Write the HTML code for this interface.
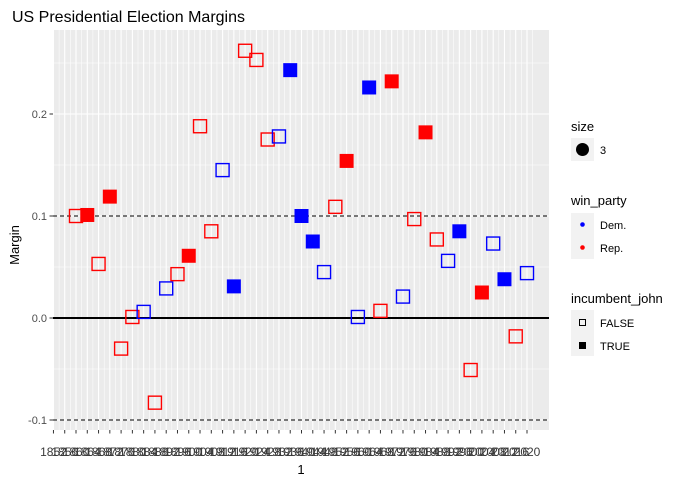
<!DOCTYPE html>
<html><head><meta charset="utf-8">
<style>
body{margin:0;background:#fff;}
svg{display:block;font-family:"Liberation Sans",Arial,sans-serif;}
</style></head>
<body>
<svg id="chart" width="689" height="484" viewBox="0 0 689 484">
  <rect x="0" y="0" width="689" height="484" fill="#fff"/>
  <text x="12" y="22" font-size="16" fill="#000">US Presidential Election Margins</text>
  <rect x="53" y="30" width="496" height="400" fill="#ebebeb"/>
  <g id="grid"></g>
  <g id="refs"></g>
  <g id="points"></g>
  <g id="yaxis"></g>
  <g id="xaxis"></g>
  <text x="301" y="474" font-size="13" text-anchor="middle" fill="#000">1</text>
  <text transform="translate(19,245) rotate(-90)" font-size="13" text-anchor="middle" fill="#000">Margin</text>

  <g>
    <text x="571" y="131" font-size="13">size</text>
    <rect x="571" y="138" width="23" height="23" fill="#f2f2f2"/>
    <circle cx="582.5" cy="149.5" r="6.5" fill="#000"/>
    <text x="600" y="154" font-size="11">3</text>
  </g>
  <g>
    <text x="571" y="205" font-size="13">win_party</text>
    <rect x="571" y="213" width="23" height="46" fill="#f2f2f2"/>
    <circle cx="582.5" cy="224.5" r="2.3" fill="#0000ff"/>
    <text x="600" y="229" font-size="11">Dem.</text>
    <circle cx="582.5" cy="247.5" r="2.3" fill="#ff0000"/>
    <text x="600" y="252" font-size="11">Rep.</text>
  </g>
  <g>
    <text x="571" y="303" font-size="13">incumbent_john</text>
    <rect x="571" y="310" width="23" height="46" fill="#f2f2f2"/>
    <rect x="579.5" y="319.5" width="6" height="6" fill="none" stroke="#000" stroke-width="1"/>
    <text x="600" y="327" font-size="11">FALSE</text>
    <rect x="579" y="342" width="7" height="7" fill="#000"/>
    <text x="600" y="350" font-size="11">TRUE</text>
  </g>
</svg>
<script>
const years = [1860,1864,1868,1872,1876,1880,1884,1888,1892,1896,1900,1904,1908,1912,1916,1920,1924,1928,1932,1936,1940,1944,1948,1952,1956,1960,1964,1968,1972,1976,1980,1984,1988,1992,1996,2000,2004,2008,2012,2016,2020];
const margins = [0.100,0.101,0.053,0.119,-0.030,0.001,0.006,-0.083,0.029,0.043,0.061,0.188,0.085,0.145,0.031,0.262,0.253,0.175,0.178,0.243,0.100,0.075,0.045,0.109,0.154,0.001,0.226,0.007,0.232,0.021,0.097,0.182,0.077,0.056,0.085,-0.051,0.025,0.073,0.038,-0.018,0.044];
const parties = ["R","R","R","R","R","R","D","R","D","R","R","R","R","D","D","R","R","R","D","D","D","D","D","R","R","D","D","R","R","D","R","R","R","D","D","R","R","D","D","R","D"];
const incumbent = [0,1,0,1,0,0,0,0,0,0,1,0,0,0,1,0,0,0,0,1,1,1,0,0,1,0,1,0,1,0,0,1,0,0,1,0,1,0,1,0,0];
const yTicks = [-0.1,0.0,0.1,0.2];
const yTickLabels = ["-0.1","0.0","0.1","0.2"];
const refValues = [-0.1,0.1];
const xTickStart = 1852, xTickEnd = 2020, xTickStep = 4;

const NS = "http://www.w3.org/2000/svg";
function xs(yr){ return 76 + (yr-1860)*2.8188; }
function ys(v){ return 318 - v*1020; }
function mk(tag, attrs, parent){ const e=document.createElementNS(NS,tag); for(const k in attrs) e.setAttribute(k,attrs[k]); parent.appendChild(e); return e; }
const grid=document.getElementById('grid'), refs=document.getElementById('refs'), pts=document.getElementById('points'), ya=document.getElementById('yaxis'), xa=document.getElementById('xaxis');

for(let i=0;i<yTicks.length;i++){
  const y=ys(yTicks[i]);
  const l=mk('line',{x1:53,x2:549,y1:y,y2:y,stroke:'#fff','stroke-width':1.1},grid);
  
  
  const ym=ys(yTicks[i]+0.05);
  if(ym>30){ const m=mk('line',{x1:53,x2:549,y1:ym,y2:ym,stroke:'#fff','stroke-width':0.55},grid);
    
     }
  const t=mk('line',{x1:49.5,x2:53,y1:y,y2:y,stroke:'#333','stroke-width':1},ya);
  
  
  const tx=mk('text',{x:47,y:y+4,'font-size':11,'text-anchor':'end',fill:'#4d4d4d'},ya);
  
  
  tx.textContent=yTickLabels[i];
}
{ const ym=ys(yTicks[0]-0.05); if(ym<430){ const m=mk('line',{x1:53,x2:549,y1:ym,y2:ym,stroke:'#fff','stroke-width':0.55},grid);
  
   } }
for(let yr=xTickStart; yr<=xTickEnd; yr+=xTickStep){
  const x=xs(yr);
  const l=mk('line',{x1:x,x2:x,y1:30,y2:430,stroke:'#fff','stroke-width':1.1},grid);
  
  
  const xm=xs(yr+2);
  if(xm<549){ const m=mk('line',{x1:xm,x2:xm,y1:30,y2:430,stroke:'#fff','stroke-width':0.55},grid);
    
     }
  const t=mk('line',{x1:x,x2:x,y1:430,y2:433.5,stroke:'#333','stroke-width':1},xa);
  
  
  const tx=mk('text',{x:x,y:456,'font-size':12,'text-anchor':'middle',fill:'#3a3a3a'},xa);
  
  
  tx.textContent=String(yr);
}
{ const xm=xs(xTickStart-2); if(xm>53){ const m=mk('line',{x1:xm,x2:xm,y1:30,y2:430,stroke:'#fff','stroke-width':0.55},grid);
  
   } }
for(const v of refValues){
  const l=mk('line',{x1:53,x2:549,y1:ys(v),y2:ys(v),stroke:'#000','stroke-width':1,'stroke-dasharray':'4,3'},refs);
  
  
}
{ const l=mk('line',{x1:53,x2:549,y1:ys(0),y2:ys(0),stroke:'#000','stroke-width':2},refs);
  
   }
for(let i=0;i<years.length;i++){
  const x=xs(years[i]), y=ys(margins[i]);
  const c=parties[i]==='D'?'#0000ff':'#ff0000';
  let r;
  if(incumbent[i]) r=mk('rect',{x:x-7,y:y-7,width:14,height:14,fill:c},pts);
  else r=mk('rect',{x:x-6.5,y:y-6.5,width:13,height:13,fill:'none',stroke:c,'stroke-width':1.4},pts);
  
  
}
</script>
</body></html>
